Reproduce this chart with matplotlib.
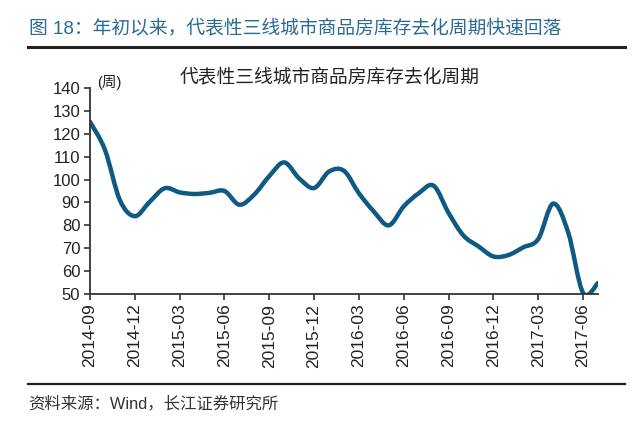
import matplotlib
matplotlib.use('Agg')
import matplotlib.pyplot as plt
from matplotlib.path import Path
from matplotlib.patches import PathPatch
from matplotlib.lines import Line2D
import numpy as np

plt.rcParams['font.family'] = ['Liberation Sans', 'Noto Sans CJK SC']

# monthly data, 2014-09 .. 2017-07 (weeks)
months = ['2014-09', '2014-10', '2014-11', '2014-12', '2015-01', '2015-02',
          '2015-03', '2015-04', '2015-05', '2015-06', '2015-07', '2015-08',
          '2015-09', '2015-10', '2015-11', '2015-12', '2016-01', '2016-02',
          '2016-03', '2016-04', '2016-05', '2016-06', '2016-07', '2016-08',
          '2016-09', '2016-10', '2016-11', '2016-12', '2017-01', '2017-02',
          '2017-03', '2017-04', '2017-05', '2017-06', '2017-07']
weeks = [125.2, 113, 91, 84, 90.3, 96.2,
         94.4, 93.7, 94.2, 95, 89, 93.5,
         101.5, 107.5, 100.5, 96.3, 103.5, 103.8,
         94, 86, 80, 88.3, 94, 97.3,
         85.4, 75.5, 70.8, 66.4, 67, 70.4,
         74, 89.5, 77, 50.5, 54.8]
yticks = [50, 60, 70, 80, 90, 100, 110, 120, 130, 140]

header = '图 18：年初以来，代表性三线城市商品房库存去化周期快速回落'
chart_title = '代表性三线城市商品房库存去化周期'
unit = '(周)'
source = '资料来源：Wind，长江证券研究所'

line_color = '#0f5a82'


def smooth_path(xs, ys):
    # excel-like smoothed line: cubic bezier segments through every point
    pts = np.column_stack([xs, ys]).astype(float)
    n = len(pts)
    verts = [pts[0]]
    codes = [Path.MOVETO]
    for i in range(n - 1):
        p0 = pts[i - 1] if i > 0 else pts[i]
        p1 = pts[i]
        p2 = pts[i + 1]
        p3 = pts[i + 2] if i + 2 < n else pts[i + 1]
        c1 = p1 + (p2 - p0) / 6.0
        c2 = p2 - (p3 - p1) / 6.0
        verts += [c1, c2, p2]
        codes += [Path.CURVE4] * 3
    return Path(verts, codes)


fig = plt.figure(figsize=(6.4, 4.33), dpi=100)
ax = fig.add_axes([90 / 640, 1 - 294 / 433, (598 - 90) / 640, (294 - 88) / 433])

x = np.arange(len(months))
patch = PathPatch(smooth_path(x, weeks), facecolor='none', edgecolor=line_color,
                  lw=3.2, capstyle='round', joinstyle='round')
ax.add_patch(patch)

ax.set_xlim(0, len(months) - 1)
ax.set_ylim(50, 140)
ax.set_yticks(yticks)
ax.set_yticklabels([str(v) for v in yticks], fontsize=12, color='#222222')
ax.set_xticks(x[::3])
ax.set_xticklabels(months[::3], rotation=90, fontsize=12.5, color='#222222')
ax.tick_params(axis='both', direction='out', length=4, width=1.2, color='#333333', pad=3)

for side in ['top', 'right']:
    ax.spines[side].set_visible(False)
for side in ['left', 'bottom']:
    ax.spines[side].set_color('#333333')
    ax.spines[side].set_linewidth(1.3)

# header, rules and notes
fig.text(29 / 640, 1 - 28 / 433, header, fontsize=13.5, color='#2a6a96',
         ha='left', va='center')
fig.add_artist(Line2D([28 / 640, 625 / 640], [1 - 47 / 433, 1 - 47 / 433],
                      color='#222222', lw=2.2))
fig.text(330 / 640, 1 - 77 / 433, chart_title, fontsize=13.5, color='#222222',
         ha='center', va='center')
fig.text(97 / 640, 1 - 82 / 433, unit, fontsize=10.5, color='#222222',
         ha='left', va='center')
fig.add_artist(Line2D([28 / 640, 625 / 640], [1 - 384 / 433, 1 - 384 / 433],
                      color='#222222', lw=1.6))
fig.text(28 / 640, 1 - 404 / 433, source, fontsize=11.8, color='#333333',
         ha='left', va='center')

fig.savefig('out.png', dpi=100)
